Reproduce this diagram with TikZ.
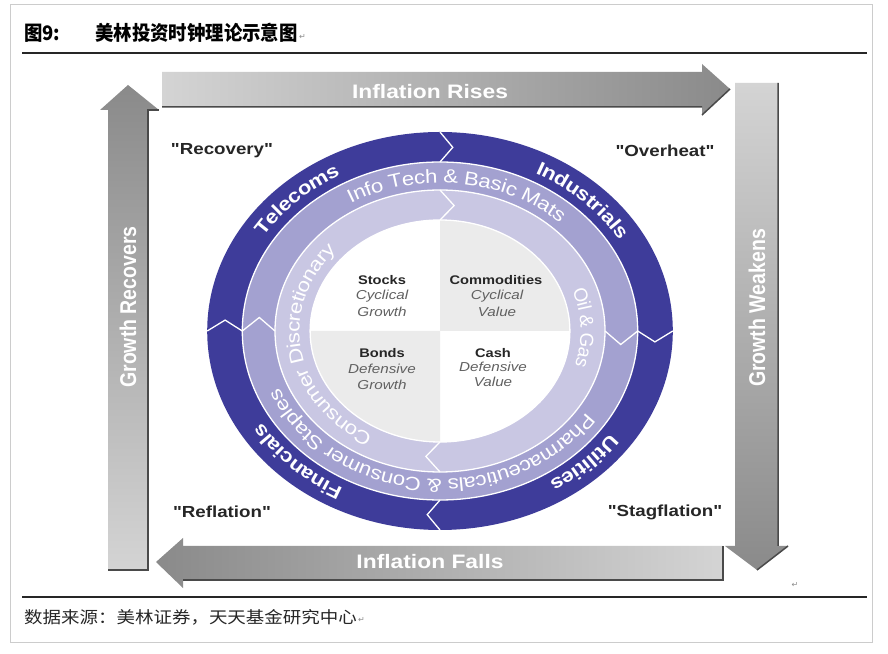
\documentclass[tikz,border=0pt]{standalone}
\usepackage{fontspec}
\usepackage{graphicx}
\setmainfont{Liberation Sans}[FakeStretch=1.17]
\newfontfamily\plainsans{Liberation Sans}
\newfontfamily\qfont{Liberation Sans}[FakeStretch=1.17, Ligatures=TeXOff]
\newfontfamily\cjk{Noto Sans CJK SC}[FakeStretch=1.12]
\newfontfamily\cjktitle{Noto Sans CJK SC}[FakeStretch=0.92]
\newfontfamily\symfont{DejaVu Sans}
\usetikzlibrary{decorations.text}
\definecolor{ringA}{HTML}{3E3C9A}
\definecolor{ringB}{HTML}{A3A1D0}
\definecolor{ringC}{HTML}{C9C7E3}
\definecolor{quadG}{HTML}{EBEBEB}
\definecolor{arrDark}{HTML}{8A8A8A}
\definecolor{arrLight}{HTML}{D4D4D4}
\definecolor{edgeDark}{HTML}{4A4A4A}
\definecolor{frameGrey}{HTML}{CCCCCC}
\begin{document}
\begin{tikzpicture}[x=1pt,y=1pt,
  arrtext/.style={font=\bfseries\fontsize{19.5}{19.5}\selectfont, text=white, inner sep=0pt},
  quadlabel/.style={font=\qfont\bfseries\fontsize{16}{16}\selectfont, text=black!85, inner sep=0pt},
  assetb/.style={font=\bfseries\fontsize{12.5}{12.5}\selectfont, text=black!85, inner sep=0pt},
  asseti/.style={font=\itshape\fontsize{13}{13}\selectfont, text=black!62, inner sep=0pt},
  retmark/.style={font=\symfont\fontsize{8}{8}\selectfont, text=black!45, inner sep=0pt},
  sepline/.style={white, line width=1.3pt},
  chev/.style={white, line width=1.3pt, line join=miter},
  edge/.style={edgeDark, line width=1.5pt},
  ringtext/.style={decorate, decoration={text along path, text align=center, raise=-6.8pt, text={#1}}}
]
\useasboundingbox (0,0) rectangle (888,653);
\fill[white] (0,0) rectangle (888,653);
\draw[frameGrey, line width=1pt] (10,11) rectangle (872,648);

% title
\node[anchor=west, inner sep=0pt, font=\cjktitle\bfseries\fontsize{20}{20}\selectfont] (fignum) at (24,620) {图9:};
\node[anchor=west, inner sep=0pt, font=\cjktitle\bfseries\fontsize{20}{20}\selectfont] (title) at (95,620) {美林投资时钟理论示意图};
\node[retmark, anchor=west] (ret1) at ([xshift=1pt,yshift=-4pt]title.east) {↵};
\draw[black!85, line width=1.4pt] (22,600) -- (867,600);

% footer
\draw[black!85, line width=1.4pt] (22,56) -- (867,56);
\node[anchor=west, inner sep=0pt, font=\cjk\fontsize{16.5}{16.5}\selectfont, text=black!85] (src) at (24,36) {数据来源：美林证券，天天基金研究中心};
\node[retmark, anchor=west] (ret3) at ([xshift=1pt,yshift=-3pt]src.east) {↵};
\node[retmark] (ret2) at (795,68) {↵};

% arrows
\shade[left color=arrLight, right color=arrDark] (162,581) -- (702,581) -- (702,589) -- (730,564) -- (702,538) -- (702,546) -- (162,546) -- cycle;
\draw[edge] (162,546) -- (702,546) (702,538) -- (730,564);
\shade[top color=arrLight, bottom color=arrDark] (735,570) -- (778,570) -- (778,107) -- (788,107) -- (757,83) -- (725,107) -- (735,107) -- cycle;
\draw[edge] (778,570) -- (778,107) (788,107) -- (757,83);
\shade[left color=arrDark, right color=arrLight] (723,107) -- (183,107) -- (183,115) -- (156,91) -- (183,65) -- (183,73) -- (723,73) -- cycle;
\draw[edge] (183,73) -- (723,73) -- (723,107);
\shade[top color=arrDark, bottom color=arrLight] (108,83) -- (148,83) -- (148,543) -- (159,543) -- (128,568) -- (100,543) -- (108,543) -- cycle;
\draw[edge] (108,83) -- (148,83) -- (148,543) -- (159,543);

\node[arrtext] (rises) at (430,561) {Inflation Rises};
\node[arrtext] (falls) at (430,91) {Inflation Falls};
\node[arrtext, rotate=90] (weakens) at (757,345) {\scalebox{1}[1.17]{\plainsans Growth Weakens}};
\node[arrtext, rotate=90] (recovers) at (128,346) {\scalebox{1}[1.17]{\plainsans Growth Recovers}};

% quadrant labels
\node[quadlabel] (recovery) at (222,502) {"Recovery"};
\node[quadlabel] (overheat) at (665,502) {"Overheat"};
\node[quadlabel] (reflation) at (222,141) {"Reflation"};
\node[quadlabel] (stagflation) at (665,141) {"Stagflation"};

% rings
\coordinate (C) at (440,322);
\fill[ringA] (C) ellipse [x radius=232.8pt, y radius=199pt];
\fill[ringB] (C) ellipse [x radius=197.7pt, y radius=169pt];
\draw[sepline] (C) ellipse [x radius=197.7pt, y radius=169pt];
\fill[ringC] (C) ellipse [x radius=165pt, y radius=141pt];
\draw[sepline] (C) ellipse [x radius=165pt, y radius=141pt];
\fill[white] (C) ellipse [x radius=129.9pt, y radius=111pt];
\fill[quadG] (C) -- ++(129.9,0) arc[start angle=0, end angle=90, x radius=129.9pt, y radius=111pt] -- cycle;
\fill[quadG] (C) -- ++(-129.9,0) arc[start angle=180, end angle=270, x radius=129.9pt, y radius=111pt] -- cycle;
\draw[sepline] (C) ellipse [x radius=129.9pt, y radius=111pt];

% chevrons outer ring
\foreach \t in {90,0,-90,180}{
  \draw[chev] ([shift={(C)}]\t:232.8pt and 199pt) -- ([shift={(C)}]\t-3.4:215.3pt and 184pt) -- ([shift={(C)}]\t:197.7pt and 169pt);
}
% chevrons middle ring
\foreach \t in {0,180}{
  \draw[chev] ([shift={(C)}]\t:197.7pt and 169pt) -- ([shift={(C)}]\t-5:181.4pt and 155pt) -- ([shift={(C)}]\t:165pt and 141pt);
}
% chevrons inner ring
\foreach \t in {90,-90}{
  \draw[chev] ([shift={(C)}]\t:165pt and 141pt) -- ([shift={(C)}]\t-5.5:147.4pt and 126pt) -- ([shift={(C)}]\t:129.9pt and 111pt);
}

% outer ring text
\path[ringtext={|\color{white}\bfseries\fontsize{19}{19}\selectfont|Telecoms}] ([shift={(C)}]180:215.3pt and 184pt) arc[start angle=180, end angle=90, x radius=215.3pt, y radius=184pt];
\path[ringtext={|\color{white}\bfseries\fontsize{19}{19}\selectfont|Industrials}] ([shift={(C)}]90:215.3pt and 184pt) arc[start angle=90, end angle=0, x radius=215.3pt, y radius=184pt];
\path[ringtext={|\color{white}\bfseries\fontsize{19}{19}\selectfont|Utilities}] ([shift={(C)}]0:215.3pt and 184pt) arc[start angle=0, end angle=-90, x radius=215.3pt, y radius=184pt];
\path[ringtext={|\color{white}\bfseries\fontsize{19}{19}\selectfont|Financials}] ([shift={(C)}]270:215.3pt and 184pt) arc[start angle=270, end angle=180, x radius=215.3pt, y radius=184pt];

% middle ring text
\path[ringtext={|\color{white}\fontsize{19}{19}\selectfont|Info Tech {\&} Basic Mats}] ([shift={(C)}]173:181.4pt and 155pt) arc[start angle=173, end angle=-7, x radius=181.4pt, y radius=155pt];
\path[ringtext={|\color{white}\fontsize{19}{19}\selectfont|Pharmaceuticals {\&} Consumer Staples}] ([shift={(C)}]-5.5:181.4pt and 155pt) arc[start angle=-5.5, end angle=-185.5, x radius=181.4pt, y radius=155pt];

% inner ring text
\path[ringtext={|\color{white}\fontsize{19}{19}\selectfont|Consumer Discretionary}] ([shift={(C)}]269:147.4pt and 126pt) arc[start angle=269, end angle=109, x radius=147.4pt, y radius=126pt];
\path[ringtext={|\color{white}\plainsans\fontsize{19}{19}\selectfont|Oil {\&} Gas}] ([shift={(C)}]61.5:147.4pt and 126pt) arc[start angle=61.5, end angle=-58.5, x radius=147.4pt, y radius=126pt];

% assets
\node[assetb] (stocks) at (382,373) {Stocks};
\node[asseti] (stocks2) at (382,357) {Cyclical};
\node[asseti] (stocks3) at (382,341) {Growth};
\node[assetb] (comm) at (496,373) {Commodities};
\node[asseti] (comm2) at (497,357) {Cyclical};
\node[asseti] (comm3) at (497,341) {Value};
\node[assetb] (bonds) at (382,300) {Bonds};
\node[asseti] (bonds2) at (382,284) {Defensive};
\node[asseti] (bonds3) at (382,268) {Growth};
\node[assetb] (cash) at (493,300) {Cash};
\node[asseti] (cash2) at (493,286) {Defensive};
\node[asseti] (cash3) at (493,271) {Value};
\end{tikzpicture}
\end{document}
